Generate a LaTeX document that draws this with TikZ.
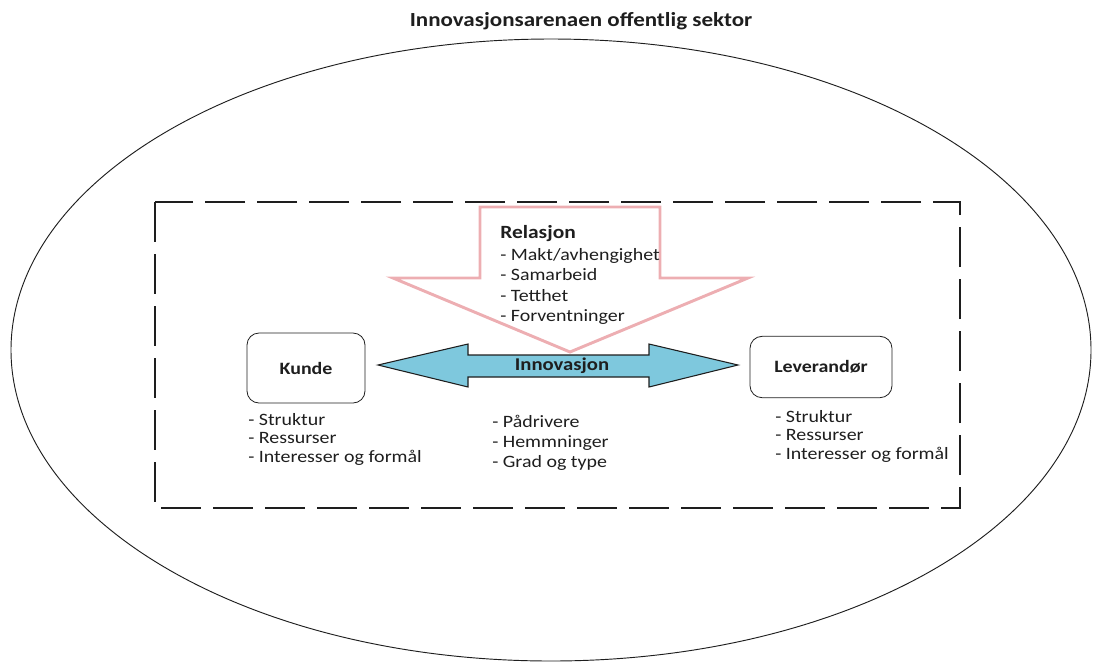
\documentclass[tikz,border=0pt]{standalone}
\usepackage{fontspec}
\setmainfont{Carlito}[FakeStretch=1.15]
\usetikzlibrary{positioning}
\definecolor{Sky}{HTML}{7EC8DD}
\definecolor{Rose}{HTML}{E58C92}
\definecolor{Ink}{HTML}{1E1E1E}
\begin{document}
\begin{tikzpicture}[x=0.75pt, y=-0.75pt,
    party/.style={rectangle, rounded corners=9pt, draw=Ink, line width=0.6pt,
                  font=\fontsize{13}{15}\selectfont\bfseries, text=Ink},
    head/.style={font=\fontsize{13.5}{15}\selectfont\bfseries, text=Ink, inner sep=0pt},
    items/.style={align=left, font=\fontsize{13}{13.9}\selectfont, text=Ink, inner sep=0pt, anchor=north west},
    frame/.style={draw=Ink, line width=1.1pt, dash pattern=on 30pt off 9pt},
    relarrow/.style={draw=Rose, line width=2.2pt, line join=miter, opacity=0.7},
    innarrow/.style={draw=Ink, line width=0.8pt, fill=Sky}
  ]
  \useasboundingbox (0,0) rectangle (1093,662);
  \node[head, anchor=base, font=\fontsize{15}{17}\selectfont\bfseries] (title) at (581,26)
    {Innovasjonsarenaen offentlig sektor};
  \draw[draw=Ink, line width=0.7pt] (551,350) ellipse [x radius=540, y radius=311];
  \draw[frame] (155,202) rectangle (960,508);
  \draw[relarrow] (480,207) -- (660,207) -- (660,278) -- (748,278) -- (570,352)
    -- (393,278) -- (480,278) -- cycle;
  \node[head, anchor=base west, font=\fontsize{14}{15}\selectfont\bfseries] (rel) at (500,238) {Relasjon};
  \node[items, font=\fontsize{13}{15.4}\selectfont] (rellist) at (500,248)
    {- Makt/avhengighet\\- Samarbeid\\- Tetthet\\- Forventninger};
  \node[party, minimum width=88.5pt, minimum height=52.5pt] (kunde) at (306,368) {Kunde};
  \node[party, minimum width=106.5pt, minimum height=46pt] (lev) at (821,367) {Leverandør};
  \draw[innarrow] (378,365) -- (468,344) -- (468,355) -- (649,355) -- (649,344) -- (738,365)
    -- (649,387) -- (649,377) -- (468,377) -- (468,387) -- cycle;
  \node[head] (innov) at (562,366) {Innovasjon};
  \node[items] (kundelist) at (248,413) {- Struktur\\- Ressurser\\- Interesser og formål};
  \node[items] (levlist) at (775,410) {- Struktur\\- Ressurser\\- Interesser og formål};
  \node[items, font=\fontsize{13}{15}\selectfont] (innlist) at (492,415)
    {- Pådrivere\\- Hemmninger\\- Grad og type};
\end{tikzpicture}
\end{document}
